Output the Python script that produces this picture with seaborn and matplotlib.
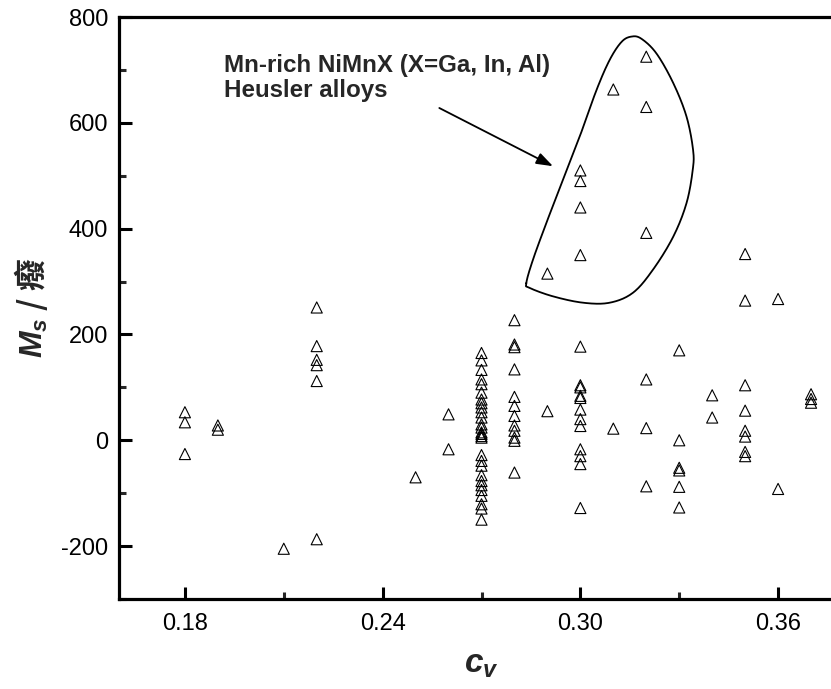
import numpy as np
import matplotlib
matplotlib.use("Agg")
import matplotlib.pyplot as plt
from matplotlib.ticker import AutoMinorLocator
import seaborn as sns
import pandas as pd

# ---------------- data ----------------
cv_018 = [53, 34, -26]
cv_019 = [28, 20]
cv_021 = [-205]
cv_022 = [251, 178, 152, 142, 112, -187]
cv_025 = [-70]
cv_026 = [49, -17]
cv_027 = [165, 151, 133, 115, 106, 90, 77, 70, 62, 53, 43, 30, 24, 15, 12, 8, 5,
          -28, -39, -48, -66, -77, -85, -94, -105, -121, -129, -150]
cv_028 = [227, 181, 176, 134, 82, 65, 46, 28, 18, 5, -1, -61]
cv_029 = [55, 315]
cv_030 = [510, 490, 440, 350, 177, 104, 100, 84, 80, 58, 40, 27, -17, -30, -45, -128]
cv_031 = [663, 22]
cv_032 = [725, 630, 392, 115, 23, -87]
cv_033 = [170, 0, -52, -57, -88, -127]
cv_034 = [85, 43]
cv_035 = [352, 264, 104, 56, 18, 7, -22, -30]
cv_036 = [267, -92]
cv_037 = [87, 78, 71]

columns = {0.18: cv_018, 0.19: cv_019, 0.21: cv_021, 0.22: cv_022, 0.25: cv_025,
           0.26: cv_026, 0.27: cv_027, 0.28: cv_028, 0.29: cv_029, 0.30: cv_030,
           0.31: cv_031, 0.32: cv_032, 0.33: cv_033, 0.34: cv_034, 0.35: cv_035,
           0.36: cv_036, 0.37: cv_037}

x_ticks = [0.18, 0.24, 0.30, 0.36]
y_ticks = [-200, 0, 200, 400, 600, 800]

# outline of the highlighted Mn-rich region (data coords)
loop_cv = [0.2836, 0.2856, 0.2897, 0.2947, 0.2998, 0.3049, 0.3089, 0.3125, 0.3155,
           0.3185, 0.3231, 0.3282, 0.3322, 0.3342, 0.3341, 0.3322, 0.3282, 0.3221,
           0.3160, 0.3089, 0.3008, 0.2917, 0.2846]
loop_ms = [297, 341, 411, 492, 574, 662, 719, 753, 763, 759, 731, 675, 612, 549,
           511, 448, 385, 323, 279, 260, 260, 272, 288]

annot_text = "Mn-rich NiMnX (X=Ga, In, Al)\nHeusler alloys"
arrow_start = (0.2572, 628)
arrow_end = (0.2917, 518)

df = pd.DataFrame([(c, v) for c, vals in columns.items() for v in vals],
                  columns=["cv", "Ms"])

# ---------------- style ----------------
sns.set_style("ticks")
plt.rcParams["font.family"] = ["Liberation Sans", "Noto Sans CJK SC", "DejaVu Sans"]
plt.rcParams["mathtext.fontset"] = "custom"
plt.rcParams["mathtext.bf"] = "Liberation Sans:bold:italic"
plt.rcParams["mathtext.rm"] = "Liberation Sans"
plt.rcParams["mathtext.it"] = "Liberation Sans:italic"

W, H = 831, 689
fig = plt.figure(figsize=(W / 100, H / 100), dpi=100)
fig.patch.set_facecolor("white")
ax_left, ax_right, ax_top, ax_bottom = 119, 844, 17, 599
ax = fig.add_axes([ax_left / W, (H - ax_bottom) / H,
                   (ax_right - ax_left) / W, (ax_bottom - ax_top) / H])
ax.set_facecolor("white")

# loop (smooth closed Catmull-Rom curve through outline points)
P = np.column_stack([loop_cv, loop_ms]).astype(float)
n = len(P)
curve = []
for i in range(n):
    p0, p1, p2, p3 = P[(i - 1) % n], P[i], P[(i + 1) % n], P[(i + 2) % n]
    for t in np.linspace(0, 1, 20, endpoint=False):
        t2, t3 = t * t, t * t * t
        pt = 0.5 * ((2 * p1) + (-p0 + p2) * t + (2 * p0 - 5 * p1 + 4 * p2 - p3) * t2
                    + (-p0 + 3 * p1 - 3 * p2 + p3) * t3)
        curve.append(pt)
curve.append(curve[0])
curve = np.array(curve)
ax.plot(curve[:, 0], curve[:, 1], color="black", lw=1.3, zorder=2)

sns.scatterplot(data=df, x="cv", y="Ms", marker="^", s=64, facecolor="none",
                edgecolor="black", linewidth=0.8, ax=ax, zorder=3)

ax.set_xlim(0.16, 0.38)
ax.set_ylim(-300, 800)
ax.set_xticks(x_ticks)
ax.set_xticklabels([f"{v:.2f}" for v in x_ticks])
ax.set_yticks(y_ticks)
ax.set_yticklabels([str(v) for v in y_ticks])
ax.xaxis.set_minor_locator(AutoMinorLocator(2))
ax.yaxis.set_minor_locator(AutoMinorLocator(2))

for side in ["left", "bottom", "top", "right"]:
    ax.spines[side].set_linewidth(2.3)
    ax.spines[side].set_color("black")
ax.spines["right"].set_visible(False)

ax.tick_params(axis="both", which="major", direction="in", length=9, width=2.2,
               labelsize=17, colors="black", top=False, right=False)
ax.tick_params(axis="both", which="minor", direction="in", length=5, width=2.2,
               top=False, right=False)
ax.tick_params(axis="x", which="major", pad=10)
ax.tick_params(axis="y", which="major", pad=8)

ax.set_xlabel(r"$\mathbf{c}_\mathbf{v}$", fontsize=24, labelpad=10)
ax.set_ylabel(r"$\mathbf{M}_\mathbf{s}$ / 癈", fontsize=23, labelpad=8,
              fontfamily="Noto Sans CJK SC", fontweight="bold")

ax.text(0.1919, 730, annot_text, fontsize=17.4, fontweight="bold", va="top",
        ha="left", linespacing=1.12, zorder=4)
ax.annotate("", xy=arrow_end, xytext=arrow_start,
            arrowprops=dict(arrowstyle="-|>,head_length=1.0,head_width=0.35",
                            color="black", lw=1.3, shrinkA=0, shrinkB=0))

fig.savefig("out.png", dpi=100, facecolor="white")
